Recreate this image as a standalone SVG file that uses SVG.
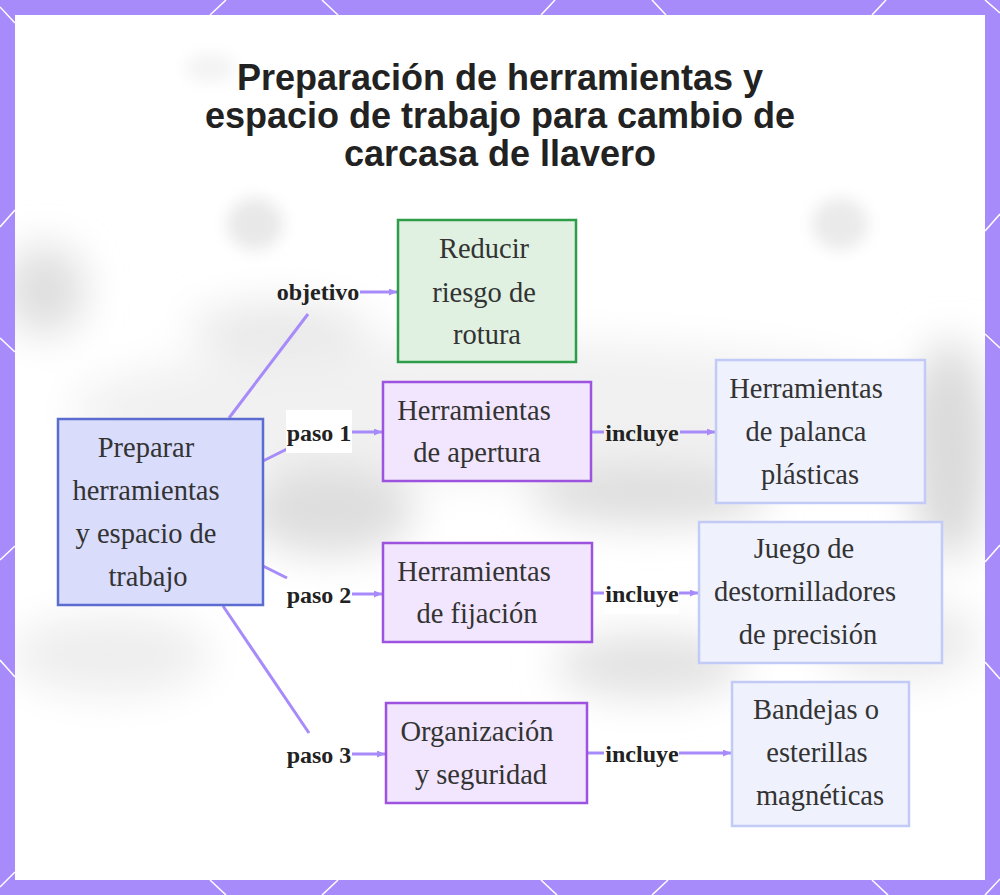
<svg xmlns="http://www.w3.org/2000/svg" width="1000" height="895" viewBox="0 0 1000 895">
<defs>
<style>
.frame-line{stroke:#ffffff;stroke-width:1.5;fill:none}
.title{font-family:"Liberation Sans",Arial,sans-serif;font-weight:bold;font-size:36px;fill:#222222;text-anchor:middle}
.ntext{font-family:"Liberation Serif","Times New Roman",serif;font-size:28.5px;fill:#333333;text-anchor:middle}
.ltext{font-family:"Liberation Serif","Times New Roman",serif;font-weight:bold;font-size:24px;fill:#222222;text-anchor:middle}
.edge{stroke:#a78bfa;stroke-width:3;fill:none}
.center{fill:#d9dcfb;stroke:#5b6cd0;stroke-width:2.5}
.goal{fill:#e0f1e2;stroke:#2e9d48;stroke-width:2.5}
.step{fill:#f1e6fd;stroke:#9d52e0;stroke-width:2.5}
.item{fill:#eff1fd;stroke:#c2cbf5;stroke-width:2.5}
.lbg{fill:#ffffff}
.blob{fill:#dedede}
</style>
<clipPath id="inner"><rect x="15" y="15" width="970" height="865"/></clipPath>
<filter id="blur" x="-50%" y="-50%" width="200%" height="200%"><feGaussianBlur stdDeviation="20"/></filter>
<filter id="blur2" x="-50%" y="-50%" width="200%" height="200%"><feGaussianBlur stdDeviation="8"/></filter>
<marker id="arr" viewBox="0 0 8 7" refX="8" refY="3.5" markerWidth="8" markerHeight="7" markerUnits="userSpaceOnUse" orient="auto">
<path d="M0,0 L8,3.5 L0,7 z" fill="#a78bfa"/>
</marker>
</defs>

<!-- frame -->
<rect x="0" y="0" width="1000" height="895" fill="#a78bfa"/>
<g id="frame-pattern" class="frame-line">
<line x1="0" y1="7" x2="15" y2="23"/>
<line x1="226" y1="0" x2="210" y2="15"/>
<line x1="322" y1="0" x2="338" y2="15"/>
<line x1="555" y1="0" x2="541" y2="15"/>
<line x1="652" y1="0" x2="666" y2="15"/>
<line x1="886" y1="0" x2="872" y2="15"/>
<line x1="985" y1="0" x2="1000" y2="13"/>
<line x1="210" y1="880" x2="226" y2="895"/>
<line x1="338" y1="880" x2="322" y2="895"/>
<line x1="541" y1="880" x2="557" y2="895"/>
<line x1="668" y1="880" x2="652" y2="895"/>
<line x1="872" y1="880" x2="888" y2="895"/>
<line x1="15" y1="872" x2="0" y2="887"/>
<line x1="1000" y1="879" x2="985" y2="895"/>
<line x1="0" y1="227" x2="15" y2="210"/>
<line x1="0" y1="338" x2="15" y2="352"/>
<line x1="0" y1="560" x2="15" y2="546"/>
<line x1="0" y1="660" x2="15" y2="677"/>
<line x1="985" y1="231" x2="1000" y2="214"/>
<line x1="985" y1="334" x2="1000" y2="348"/>
<line x1="985" y1="562" x2="1000" y2="545"/>
<line x1="985" y1="662" x2="1000" y2="679"/>
</g>
<rect x="15" y="15" width="970" height="865" fill="#ffffff"/>

<!-- blurred backdrop -->
<g id="backdrop" clip-path="url(#inner)">
<g filter="url(#blur2)">
<ellipse cx="255" cy="224" rx="28" ry="26" fill="#e8e8e8"/>
<ellipse cx="840" cy="224" rx="28" ry="26" fill="#eaeaea"/>
<ellipse cx="210" cy="68" rx="25" ry="14" fill="#f3f3f3"/>
</g>
<g filter="url(#blur)">
<ellipse cx="500" cy="410" rx="430" ry="70" fill="#f1f1f1"/>
<ellipse cx="45" cy="290" rx="40" ry="45" class="blob"/>
<ellipse cx="330" cy="510" rx="85" ry="45" class="blob"/>
<ellipse cx="650" cy="495" rx="120" ry="30" class="blob"/>
<ellipse cx="950" cy="450" rx="40" ry="110" fill="#dadada"/>
<ellipse cx="650" cy="665" rx="95" ry="32" fill="#e2e2e2"/>
<ellipse cx="110" cy="655" rx="100" ry="40" fill="#eeeeee"/>
<ellipse cx="280" cy="330" rx="90" ry="28" fill="#e9e9e9"/>
<ellipse cx="900" cy="640" rx="80" ry="40" fill="#ebebeb"/>
</g>
</g>

<!-- title -->
<g id="title">
<text class="title" x="500" y="90">Preparación de herramientas y</text>
<text class="title" x="500" y="128">espacio de trabajo para cambio de</text>
<text class="title" x="500" y="166">carcasa de llavero</text>
</g>

<!-- connectors -->
<g id="connectors">
<line class="edge" x1="229" y1="418" x2="308" y2="314"/>
<line class="edge" x1="360" y1="292" x2="397" y2="292" marker-end="url(#arr)"/>
<line class="edge" x1="263" y1="461" x2="287" y2="449"/>
<line class="edge" x1="352" y1="432" x2="382" y2="432" marker-end="url(#arr)"/>
<line class="edge" x1="263" y1="566" x2="287" y2="578"/>
<line class="edge" x1="352" y1="594" x2="382" y2="594" marker-end="url(#arr)"/>
<line class="edge" x1="223" y1="606" x2="309" y2="733"/>
<line class="edge" x1="352" y1="754" x2="385" y2="754" marker-end="url(#arr)"/>
<line class="edge" x1="592" y1="432" x2="604" y2="432"/>
<line class="edge" x1="680" y1="432" x2="715" y2="432" marker-end="url(#arr)"/>
<line class="edge" x1="592" y1="593" x2="604" y2="593"/>
<line class="edge" x1="679" y1="593" x2="698" y2="593" marker-end="url(#arr)"/>
<line class="edge" x1="588" y1="753" x2="604" y2="753"/>
<line class="edge" x1="679" y1="753" x2="731" y2="753" marker-end="url(#arr)"/>
</g>

<!-- edge labels -->
<g id="edge-labels">
<text class="ltext" x="318" y="300">objetivo</text>
<rect class="lbg" x="286" y="410" width="66" height="43"/>
<text class="ltext" x="319" y="441">paso 1</text>
<text class="ltext" x="319" y="603">paso 2</text>
<text class="ltext" x="319" y="763">paso 3</text>
<text class="ltext" x="642" y="441">incluye</text>
<rect class="lbg" x="604" y="571" width="75" height="43"/>
<text class="ltext" x="642" y="602">incluye</text>
<rect class="lbg" x="604" y="732" width="75" height="43"/>
<text class="ltext" x="642" y="762">incluye</text>
</g>

<!-- nodes -->
<g id="node-preparar">
<rect class="center" x="58" y="419" width="205" height="186"/>
<text class="ntext" x="146" y="457">Preparar</text>
<text class="ntext" x="146" y="500">herramientas</text>
<text class="ntext" x="146" y="543">y espacio de</text>
<text class="ntext" x="148" y="586">trabajo</text>
</g>
<g id="node-reducir">
<rect class="goal" x="398" y="220" width="178" height="142"/>
<text class="ntext" x="484" y="258">Reducir</text>
<text class="ntext" x="484" y="302">riesgo de</text>
<text class="ntext" x="487" y="344">rotura</text>
</g>
<g id="node-apertura">
<rect class="step" x="383" y="382" width="208" height="99"/>
<text class="ntext" x="474" y="420">Herramientas</text>
<text class="ntext" x="477" y="462">de apertura</text>
</g>
<g id="node-fijacion">
<rect class="step" x="383" y="543" width="209" height="99"/>
<text class="ntext" x="474" y="581">Herramientas</text>
<text class="ntext" x="477" y="623">de fijación</text>
</g>
<g id="node-organizacion">
<rect class="step" x="386" y="703" width="201" height="100"/>
<text class="ntext" x="477" y="741">Organización</text>
<text class="ntext" x="481" y="784">y seguridad</text>
</g>
<g id="node-palanca">
<rect class="item" x="716" y="360" width="209" height="143"/>
<text class="ntext" x="806" y="398">Herramientas</text>
<text class="ntext" x="806" y="441">de palanca</text>
<text class="ntext" x="810" y="484">plásticas</text>
</g>
<g id="node-destornilladores">
<rect class="item" x="699" y="522" width="243" height="141"/>
<text class="ntext" x="804" y="558">Juego de</text>
<text class="ntext" x="805" y="601">destornilladores</text>
<text class="ntext" x="808" y="644">de precisión</text>
</g>
<g id="node-bandejas">
<rect class="item" x="732" y="682" width="177" height="144"/>
<text class="ntext" x="816" y="719">Bandejas o</text>
<text class="ntext" x="817" y="762">esterillas</text>
<text class="ntext" x="820" y="805">magnéticas</text>
</g>
</svg>
